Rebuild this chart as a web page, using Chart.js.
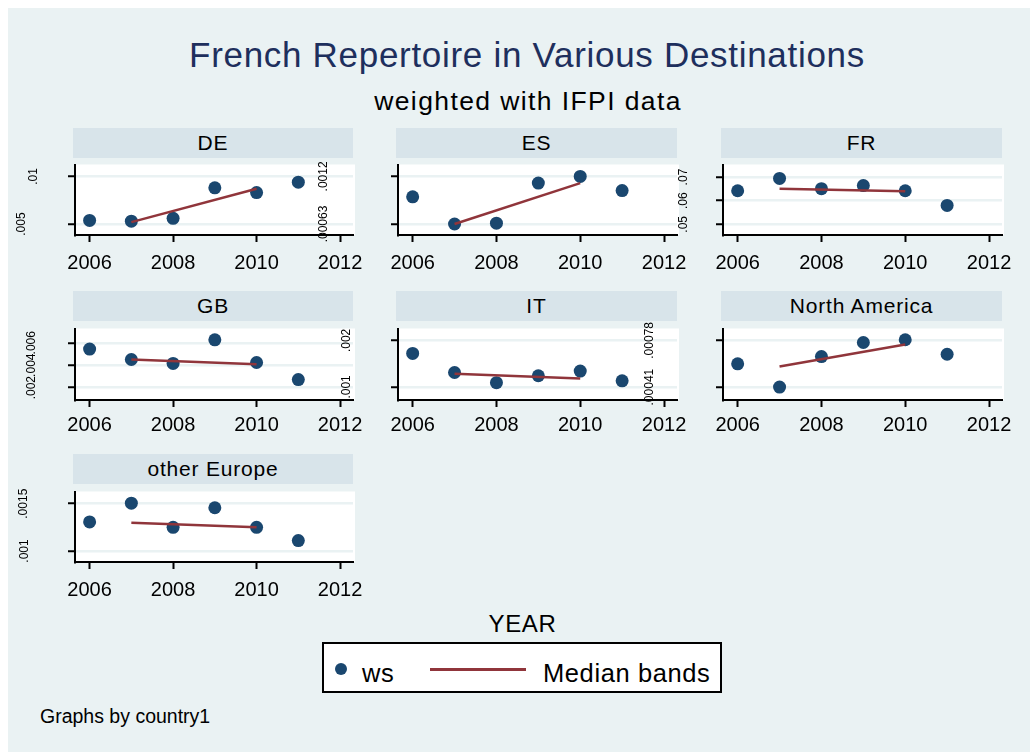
<!DOCTYPE html>
<html>
<head>
<meta charset="utf-8">
<title>French Repertoire in Various Destinations</title>
<script src="https://cdn.jsdelivr.net/npm/chart.js@4.4.1/dist/chart.umd.min.js"></script>
<style>
  body { margin: 0; width: 1030px; height: 754px; background: #fff; position: relative; overflow: hidden;
         font-family: "Liberation Sans", Arial, sans-serif; }
  #bg { position: absolute; left: 8px; top: 8px; width: 1022px; height: 744px; background: #eaf2f3; }
  .txt { position: absolute; white-space: nowrap; line-height: 1; }
  .strip { position: absolute; height: 30px; background: #d8e4ea; text-align: center;
           font-size: 21px; line-height: 30px; letter-spacing: 0.8px; color: #000; }
  canvas { position: absolute; }
  #legend { position: absolute; left: 322px; top: 642px; width: 396px; height: 47px;
            background: #fff; border: 2px solid #000; }
</style>
</head>
<body>
<div id="bg"></div>
<div class="txt" style="left:0;width:1054px;text-align:center;top:37px;font-size:35px;letter-spacing:0.7px;color:#1e2f5d;">French Repertoire in Various Destinations</div>
<div class="txt" style="left:0;width:1056px;text-align:center;top:88px;font-size:26.5px;letter-spacing:1.4px;color:#000;">weighted with IFPI data</div>
<div class="txt" style="left:0;width:1045px;text-align:center;top:612px;font-size:24px;letter-spacing:0.6px;color:#000;">YEAR</div>
<div id="legend">
  <div style="position:absolute;left:11px;top:19px;width:12px;height:12px;border-radius:50%;background:#1a476f;"></div>
  <div class="txt" style="left:38px;top:17px;font-size:25.5px;letter-spacing:0.5px;">ws</div>
  <div style="position:absolute;left:106px;top:24px;width:96px;height:3px;background:#90353b;"></div>
  <div class="txt" style="left:219px;top:17px;font-size:25.5px;letter-spacing:0.6px;">Median bands</div>
</div>
<div class="txt" style="left:40px;top:707px;font-size:19.5px;color:#000;">Graphs by country1</div>

<script>
// Data (ws by year, median band end points)
const years = [2006, 2007, 2008, 2009, 2010, 2011];
const bandYears = [2007, 2010];
const xTicks = [2006, 2008, 2010, 2012];

const wsDE = [0.00538, 0.0053, 0.0056, 0.0088, 0.0083, 0.0094];
const bandDE = [0.0052, 0.0087];
const yTicksDE = [0.005, 0.01];
const yLabelsDE = [".005", ".01"];

const wsES = [0.000956, 0.00063, 0.00064, 0.00112, 0.0012, 0.00103];
const bandES = [0.00063, 0.00112];
const yTicksES = [0.00063, 0.0012];
const yLabelsES = [".00063", ".0012"];

const wsFR = [0.0642, 0.0694, 0.0651, 0.0664, 0.0642, 0.058];
const bandFR = [0.0651, 0.064];
const yTicksFR = [0.05, 0.06, 0.07];
const yLabelsFR = [".05", ".06", ".07"];

const wsGB = [0.00544, 0.00451, 0.00416, 0.00626, 0.00424, 0.00272];
const bandGB = [0.00451, 0.00408];
const yTicksGB = [0.002, 0.004, 0.006];
const yLabelsGB = [".002", ".004", ".006"];

const wsIT = [0.00172, 0.00131, 0.00109, 0.00124, 0.00134, 0.00113];
const bandIT = [0.00128, 0.00118];
const yTicksIT = [0.001, 0.002];
const yLabelsIT = [".001", ".002"];

const wsNA = [0.000594, 0.00041, 0.000652, 0.000763, 0.000785, 0.00067];
const bandNA = [0.000573, 0.000747];
const yTicksNA = [0.00041, 0.00078];
const yLabelsNA = [".00041", ".00078"];

const wsOE = [0.001307, 0.001506, 0.00125, 0.001457, 0.00125, 0.00111];
const bandOE = [0.0013, 0.00125];
const yTicksOE = [0.001, 0.0015];
const yLabelsOE = [".001", ".0015"];

// Layout of the 3x3 grid (page pixels)
const colPlotLeft = [75, 398, 723];
const colPlotRight = [353, 677, 1002];
const rowStripTop = [128, 291, 454];
const rowPlotTop = [158, 322, 485];
const rowAxisY = [235, 400, 562];
const rowTickPad = [9, 6, 9];
const LEFT_SPACE = 90, RIGHT_SPACE = 24, BOTTOM_SPACE = 45, TICK_LEN = 7;

const NAVY = "#1a476f";
const MAROON = "#90353b";
const FONT = '"Liberation Sans", Arial, sans-serif';

const panels = [
    { name: "DE", ws: wsDE, band: bandDE, ticks: yTicksDE, labels: yLabelsDE, col: 0, row: 0, min: 0.00385, max: 0.01125, labelX: [22, 34] },
    { name: "ES", ws: wsES, band: bandES, ticks: yTicksES, labels: yLabelsES, col: 1, row: 0, min: 0.000498, max: 0.001343, labelX: [324, 324] },
    { name: "FR", ws: wsFR, band: bandFR, ticks: yTicksFR, labels: yLabelsFR, col: 2, row: 0, min: 0.0455, max: 0.0753, labelX: [684, 684, 684] },
    { name: "GB", ws: wsGB, band: bandGB, ticks: yTicksGB, labels: yLabelsGB, col: 0, row: 1, min: 0.0009, max: 0.00727, labelX: [32, 32, 32] },
    { name: "IT", ws: wsIT, band: bandIT, ticks: yTicksIT, labels: yLabelsIT, col: 1, row: 1, min: 0.000718, max: 0.002256, labelX: [347, 347] },
    { name: "North America", ws: wsNA, band: bandNA, ticks: yTicksNA, labels: yLabelsNA, col: 2, row: 1, min: 0.000308, max: 0.000874, labelX: [650, 650] },
    { name: "other Europe", ws: wsOE, band: bandOE, ticks: yTicksOE, labels: yLabelsOE, col: 0, row: 2, min: 0.000884, max: 0.001629, labelX: [25, 24] },
];

Chart.defaults.font.family = FONT;
Chart.defaults.color = "#000";

// white plot region behind grid lines
const plotRegion = {
    id: "plotRegion",
    beforeDraw(chart) {
        const a = chart.chartArea;
        const ctx = chart.ctx;
        ctx.save();
        ctx.fillStyle = "#fff";
        ctx.fillRect(a.left, a.top, a.right - a.left + 2, a.bottom - a.top);
        ctx.restore();
    },
};

// y labels are vertical in the original, Chart.js only rotates x labels
const verticalYLabels = {
    id: "verticalYLabels",
    afterDraw(chart, args, opts) {
        const y = chart.scales.y;
        const ctx = chart.ctx;
        ctx.save();
        ctx.font = "12px " + FONT;
        ctx.fillStyle = "#000";
        ctx.textAlign = "center";
        ctx.textBaseline = "middle";
        opts.values.forEach((v, i) => {
            ctx.save();
            ctx.translate(opts.xs[i], y.getPixelForValue(v));
            ctx.rotate(-Math.PI / 2);
            ctx.fillText(opts.labels[i], 0, 0);
            ctx.restore();
        });
        ctx.restore();
    },
};

panels.forEach((p) => {
    const plotLeft = colPlotLeft[p.col];
    const plotW = colPlotRight[p.col] - plotLeft;
    const plotTop = rowPlotTop[p.row];
    const plotH = rowAxisY[p.row] - plotTop;
    const canvasLeft = plotLeft - LEFT_SPACE;

    const strip = document.createElement("div");
    strip.className = "strip";
    strip.style.left = (plotLeft - 2) + "px";
    strip.style.top = rowStripTop[p.row] + "px";
    strip.style.width = (plotW + 2) + "px";
    strip.textContent = p.name;
    document.body.appendChild(strip);

    const canvas = document.createElement("canvas");
    canvas.width = plotW + LEFT_SPACE + RIGHT_SPACE;
    canvas.height = plotH + BOTTOM_SPACE;
    canvas.style.left = canvasLeft + "px";
    canvas.style.top = plotTop + "px";
    document.body.appendChild(canvas);

    new Chart(canvas.getContext("2d"), {
        type: "scatter",
        data: {
            datasets: [
                {
                    label: "Median bands",
                    type: "line",
                    data: bandYears.map((x, i) => ({ x: x, y: p.band[i] })),
                    borderColor: MAROON,
                    borderWidth: 2.5,
                    pointRadius: 0,
                    fill: false,
                    order: 0,
                },
                {
                    label: "ws",
                    data: years.map((x, i) => ({ x: x, y: p.ws[i] })),
                    backgroundColor: NAVY,
                    borderWidth: 0,
                    pointRadius: 6.5,
                    order: 1,
                },
            ],
        },
        options: {
            responsive: false,
            animation: false,
            events: [],
            devicePixelRatio: 1,
            layout: { padding: { left: LEFT_SPACE - TICK_LEN, right: RIGHT_SPACE, top: 0, bottom: 0 } },
            plugins: {
                legend: { display: false },
                tooltip: { enabled: false },
                verticalYLabels: {
                    values: p.ticks,
                    labels: p.labels,
                    xs: p.labelX.map((x) => x - canvasLeft),
                },
            },
            scales: {
                x: {
                    type: "linear",
                    min: 2005.65,
                    max: 2012.31,
                    afterBuildTicks: (s) => { s.ticks = xTicks.map((v) => ({ value: v })); },
                    afterFit: (s) => { s.height = BOTTOM_SPACE; },
                    ticks: {
                        font: { size: 20 },
                        color: "#000",
                        padding: rowTickPad[p.row],
                        maxRotation: 0,
                        autoSkip: false,
                        callback: (v) => String(v),
                    },
                    grid: { drawOnChartArea: false, tickColor: "#000", tickWidth: 2, tickLength: TICK_LEN },
                    border: { color: "#000", width: 2 },
                },
                y: {
                    type: "linear",
                    min: p.min,
                    max: p.max,
                    afterBuildTicks: (s) => { s.ticks = p.ticks.map((v) => ({ value: v })); },
                    afterFit: (s) => { s.width = TICK_LEN; },
                    ticks: { display: false },
                    grid: { color: "#eaf2f3", lineWidth: 2.5, tickColor: "#000", tickWidth: 2, tickLength: TICK_LEN },
                    border: { color: "#000", width: 2 },
                },
            },
        },
        plugins: [plotRegion, verticalYLabels],
    });
});
</script>
</body>
</html>
